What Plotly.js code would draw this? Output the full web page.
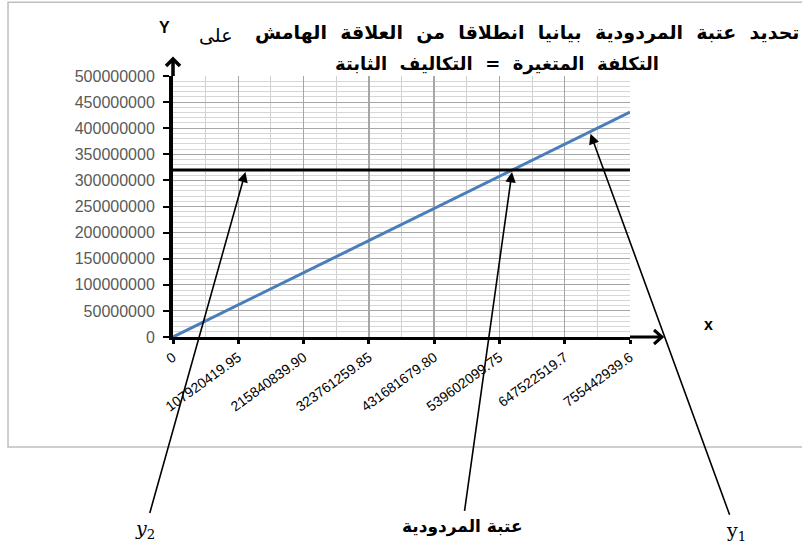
<!DOCTYPE html>
<html>
<head>
<meta charset="utf-8">
<script src="https://cdn.plot.ly/plotly-3.0.1.min.js"></script>
<style>html,body{margin:0;padding:0;background:#fff;}#chart{width:802px;height:547px;}</style>
</head>
<body>
<div id="chart"></div>
<script>
// ---- data ----
const xTickVals = [0, 107920419.95, 215840839.90, 323761259.85, 431681679.80, 539602099.75, 647522519.7, 755442939.6];
const xTickText = ["0", "107920419.95", "215840839.90", "323761259.85", "431681679.80", "539602099.75", "647522519.7", "755442939.6"];
const yTickVals = [0, 50000000, 100000000, 150000000, 200000000, 250000000, 300000000, 350000000, 400000000, 450000000, 500000000];
const yTickText = ["0", "50000000", "100000000", "150000000", "200000000", "250000000", "300000000", "350000000", "400000000", "450000000", "500000000"];
const quantity = [0, 755442939.6];
const marginY1 = [0, 431000000];        // y1 : الهامش على التكلفة المتغيرة
const fixedY2 = [320000000, 320000000]; // y2 : التكاليف الثابتة
const titleLine1 = "تحديد عتبة المردودية بيانيا انطلاقا من العلاقة الهامش";
const titleWord = "على";
const titleLine2 = "التكلفة المتغيرة = التكاليف الثابتة";
const thresholdLabel = "عتبة المردودية";
const y2PointX = 120700000;
const y1PointX = 689000000;

// ---- derived ----
const slope = marginY1[1] / quantity[1];
const breakEven = fixedY2[0] / slope;
const xMinor = [];
for (let i = 0; i < xTickVals.length - 1; i++) xMinor.push((xTickVals[i] + xTickVals[i + 1]) / 2);
const yMinor = [];
for (let v = 0; v <= 500000000; v += 10000000) yMinor.push(v);
const spaced = s => s.split(' ').join('\u00a0\u00a0');

const traces = [
  {x: quantity, y: marginY1, mode: 'lines', line: {color: '#4a7ebb', width: 3}, hoverinfo: 'skip'},
  {x: quantity, y: fixedY2, mode: 'lines', line: {color: '#000000', width: 3}, hoverinfo: 'skip'}
];

// pixel -> paper helpers for axis arrow shapes (plot area 457 x 261 px)
const px = p => p / 457, py = p => p / 261;

const layout = {
  width: 802, height: 547,
  margin: {l: 173, r: 172, t: 76, b: 210, pad: 0},
  paper_bgcolor: '#fff', plot_bgcolor: '#fff',
  showlegend: false,
  xaxis: {
    range: [0, 755442939.6],
    tickmode: 'array', tickvals: xTickVals, ticktext: xTickText, tickangle: -36,
    tickfont: {family: 'Liberation Sans, Arial, sans-serif', size: 14, color: '#000'},
    showline: true, linecolor: '#000', linewidth: 3,
    ticks: 'outside', ticklen: 4, tickwidth: 3, tickcolor: '#000',
    showgrid: true, gridcolor: '#a6a6a6', gridwidth: 1.3,
    zeroline: false,
    minor: {tickmode: 'array', tickvals: xMinor, showgrid: true, gridcolor: '#d0d0d0', gridwidth: 1, ticks: ''}
  },
  yaxis: {
    range: [0, 500000000],
    tickmode: 'array', tickvals: yTickVals, ticktext: yTickText,
    tickfont: {family: 'Liberation Sans, Arial, sans-serif', size: 16, color: '#595959'},
    showline: true, linecolor: '#000', linewidth: 4,
    ticks: 'outside', ticklen: 6, tickwidth: 2, tickcolor: '#000',
    ticklabelstandoff: 5,
    showgrid: true, gridcolor: '#a6a6a6', gridwidth: 1,
    zeroline: false,
    minor: {tickmode: 'array', tickvals: yMinor, showgrid: true, gridcolor: '#d6d6d6', gridwidth: 1, ticks: ''}
  },
  shapes: [
    {type: 'rect', xref: 'paper', yref: 'paper', x0: -0.361, x1: 1.38, y0: -0.421, y1: 1.283,
     line: {color: '#bfbfbf', width: 1.5}, fillcolor: 'rgba(0,0,0,0)', layer: 'below'},
    // y axis arrow
    {type: 'path', xref: 'paper', yref: 'paper',
     path: 'M0,1 L0,' + (1 + py(17)) + ' M' + (-px(7)) + ',' + (1 + py(10)) + ' L0,' + (1 + py(17)) + ' L' + px(7) + ',' + (1 + py(10)),
     line: {color: '#000', width: 3.5}},
    // x axis arrow
    {type: 'path', xref: 'paper', yref: 'paper',
     path: 'M1,0 L' + (1 + px(32)) + ',0 M' + (1 + px(24)) + ',' + py(7) + ' L' + (1 + px(32)) + ',0 L' + (1 + px(24)) + ',' + (-py(7)),
     line: {color: '#000', width: 3}}
  ],
  annotations: [
    // title
    {xref: 'paper', yref: 'paper', x: 1.375, y: 1.165, xanchor: 'right', yanchor: 'middle', showarrow: false,
     text: '<b>' + spaced(titleLine1) + '</b>', font: {family: 'DejaVu Sans, sans-serif', size: 19, color: '#000'}},
    {xref: 'paper', yref: 'paper', x: 0.093, y: 1.158, xanchor: 'center', yanchor: 'middle', showarrow: false,
     text: titleWord, font: {family: 'DejaVu Serif, DejaVu Sans, serif', size: 19, color: '#000'}},
    {xref: 'paper', yref: 'paper', x: 0.709, y: 1.046, xanchor: 'center', yanchor: 'middle', showarrow: false,
     text: '<b>' + spaced(titleLine2) + '</b>', font: {family: 'DejaVu Sans, sans-serif', size: 18, color: '#000'}},
    // axis names
    {xref: 'paper', yref: 'paper', x: -0.018, y: 1.184, xanchor: 'center', yanchor: 'middle', showarrow: false,
     text: '<b>Y</b>', font: {family: 'Liberation Sans, Arial, sans-serif', size: 16, color: '#000'}},
    {xref: 'paper', yref: 'paper', x: 1.171, y: 0.046, xanchor: 'center', yanchor: 'middle', showarrow: false,
     text: '<b>x</b>', font: {family: 'Liberation Sans, Arial, sans-serif', size: 16, color: '#000'}},
    // pointer labels with arrows
    {xref: 'x', yref: 'y', x: y2PointX, y: fixedY2[0], ax: -101, ay: 360, showarrow: true,
     text: '<i>y</i><sub>2</sub>', font: {family: 'DejaVu Serif, serif', size: 19, color: '#000'},
     arrowhead: 2, arrowsize: 1.3, arrowwidth: 1.6, arrowcolor: '#000', standoff: 2, borderpad: 4},
    {xref: 'x', yref: 'y', x: breakEven, y: fixedY2[0], ax: -50, ay: 357, showarrow: true,
     text: '<b>' + thresholdLabel + '</b>', font: {family: 'DejaVu Sans, sans-serif', size: 17, color: '#000'},
     arrowhead: 2, arrowsize: 1.3, arrowwidth: 1.6, arrowcolor: '#000', standoff: 2, borderpad: 5},
    {xref: 'x', yref: 'y', x: y1PointX, y: slope * y1PointX, ax: 146, ay: 400, showarrow: true,
     text: 'y<sub>1</sub>', font: {family: 'DejaVu Serif, serif', size: 19, color: '#000'},
     arrowhead: 2, arrowsize: 1.3, arrowwidth: 1.6, arrowcolor: '#000', standoff: 2, borderpad: 4}
  ]
};

Plotly.newPlot('chart', traces, layout, {staticPlot: true, displayModeBar: false});
</script>
</body>
</html>
